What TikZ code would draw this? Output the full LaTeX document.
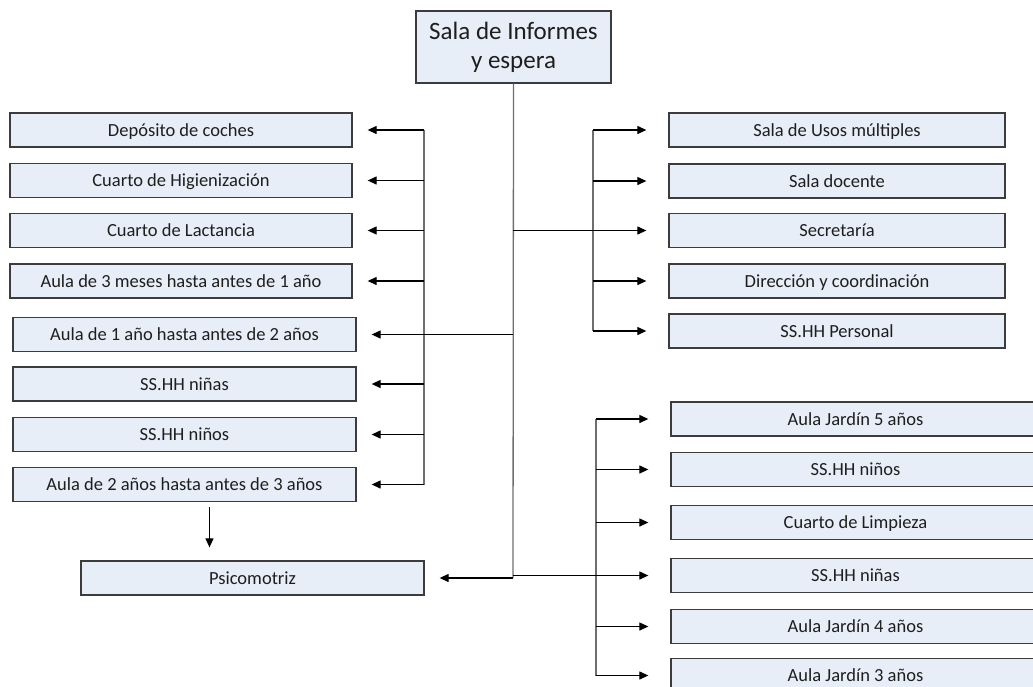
\documentclass[tikz,border=0pt]{standalone}
\usepackage{fontspec}
\setmainfont{Carlito}
\usepackage{tikz}
\usetikzlibrary{arrows.meta}
\definecolor{roomfill}{HTML}{E7EEF8}
\definecolor{edge}{HTML}{3C3C3C}
\definecolor{busgray}{HTML}{6E6E6E}
\definecolor{ink}{HTML}{1E1E1E}

\tikzset{
  room/.style={draw=edge, line width=1.3pt, fill=roomfill, text=ink, inner sep=0pt,
    minimum height=34pt, text height=16pt, text depth=4pt,
    font=\fontsize{18.5}{22}\selectfont},
  leftroom/.style={room, minimum width=342pt},
  rightroom/.style={room, minimum width=336pt},
  lowroom/.style={room, minimum width=369pt},
  wire/.style={draw=busgray, line width=1.3pt},
  arr/.style={draw=black, line width=1.2pt, -{Triangle[length=9pt,width=8pt]}}
}

\begin{document}
\begin{tikzpicture}[x=1pt, y=-1pt]
    \useasboundingbox (0,0) rectangle (1033,686);
    \clip (0,0) rectangle (1033,686);

    % main room
    \node[room, minimum width=195pt, minimum height=72pt, align=center, text height=, text depth=,
          font=\fontsize{25}{29}\selectfont] (sala) at (513.5,47) {Sala de Informes\\y espera};

    % left column, first group
    \node[leftroom] (dep)  at (181,130)   {Depósito de coches};
    \node[leftroom] (hig)  at (181,180.5) {Cuarto de Higienización};
    \node[leftroom] (lac)  at (181,230.5) {Cuarto de Lactancia};
    \node[leftroom] (a3m)  at (181,281)   {Aula de 3 meses hasta antes de 1 año};
    % left column, second group
    \node[leftroom, minimum width=343pt] (a1)   at (184.5,334.5) {Aula de 1 año hasta antes de 2 años};
    \node[leftroom, minimum width=343pt] (nas)  at (184.5,384)   {SS.HH niñas};
    \node[leftroom, minimum width=343pt] (nos)  at (184.5,434.5) {SS.HH niños};
    \node[leftroom, minimum width=343pt] (a2)   at (184.5,484.5) {Aula de 2 años hasta antes de 3 años};
    \node[leftroom, minimum width=343pt] (psico) at (252.5,578)  {Psicomotriz};

    % right column, upper group
    \node[rightroom] (usos) at (837,130)   {Sala de Usos múltiples};
    \node[rightroom] (doc)  at (837,181)   {Sala docente};
    \node[rightroom] (sec)  at (837,230.5) {Secretaría};
    \node[rightroom] (dir)  at (837,281)   {Dirección y coordinación};
    \node[rightroom] (per)  at (837,331)   {SS.HH Personal};

    % right column, lower group
    \node[lowroom] (j5)   at (855.5,419)   {Aula Jardín 5 años};
    \node[lowroom] (rnos) at (855.5,469.5) {SS.HH niños};
    \node[lowroom] (limp) at (855.5,522.5) {Cuarto de Limpieza};
    \node[lowroom] (rnas) at (855.5,575.5) {SS.HH niñas};
    \node[lowroom] (j4)   at (855.5,626.5) {Aula Jardín 4 años};
    \node[lowroom] (j3)   at (855.5,675.5) {Aula Jardín 3 años};

    % buses
    \coordinate (trunk) at (513,0);
    \coordinate (busL)  at (424,0);
    \coordinate (busR)  at (593,0);
    \coordinate (busRR) at (596,0);

    \draw[wire] (sala.south) -- (trunk |- psico);
    \draw[wire] (busL |- dep) -- (busL |- a2);
    \draw[wire] (busR |- usos) -- (busR |- per);
    \draw[wire] (busRR |- j5) -- (busRR |- j3);
    \draw[arr, -] (trunk |- sec) -- (busR |- sec);
    \draw[arr, -] (trunk |- rnas) -- (busRR |- rnas);

    % left arrows
    \foreach \n in {dep,hig,lac,a3m,nas,nos,a2}
      \draw[arr, shorten >=15pt] (busL |- \n) -- (\n.east);
    \draw[arr, shorten >=15pt] (trunk |- a1) -- (a1.east);
    \draw[arr, shorten >=15pt] (trunk |- psico) -- (psico.east);
    \draw[arr, shorten <=5pt, shorten >=13pt] ([xshift=25pt]a2.south) -- ([xshift=25pt]a2.south |- psico.north);

    % right arrows
    \foreach \n in {usos,doc,sec,dir,per}
      \draw[arr, shorten >=22pt] (busR |- \n) -- (\n.west);
    \foreach \n in {j5,rnos,limp,rnas,j4,j3}
      \draw[arr, shorten >=22pt] (busRR |- \n) -- (\n.west);
\end{tikzpicture}
\end{document}
